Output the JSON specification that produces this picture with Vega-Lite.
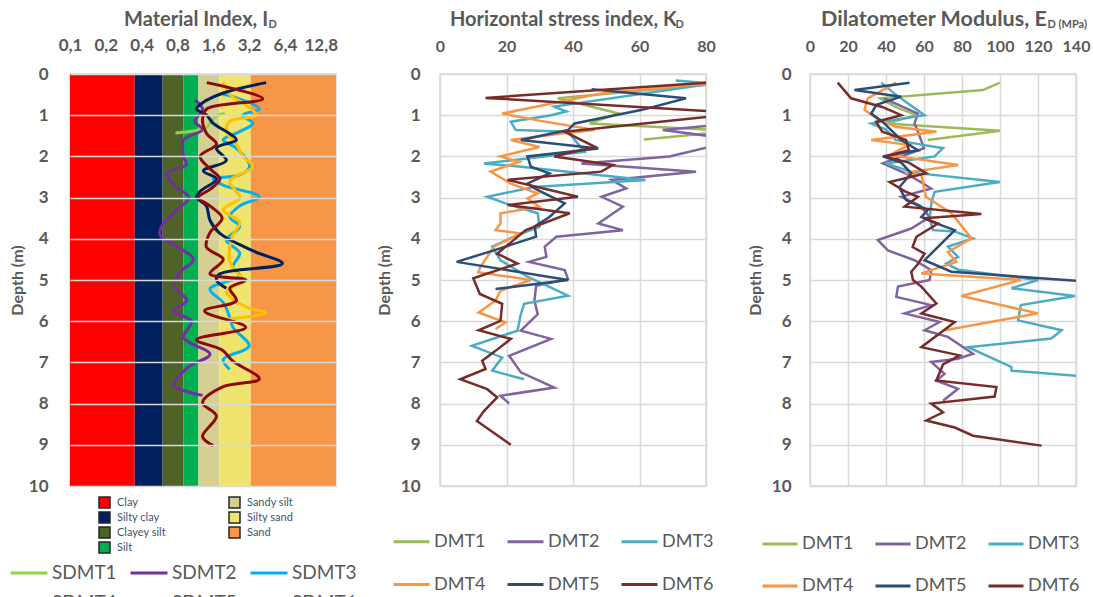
{
  "$schema": "https://vega.github.io/schema/vega-lite/v6.json",
  "background": "white",
  "padding": {"left": 8, "top": 7, "right": 0, "bottom": 0},
  "config": {
    "font": "Lato",
    "view": {"stroke": "#D9D9D9", "strokeWidth": 1.5},
    "axis": {"labelFont": "Lato", "labelFontWeight": "bold", "labelColor": "#595959", "labelFontSize": 16, "titleFont": "Lato", "titleFontWeight": "bold", "titleColor": "#595959", "domain": false, "ticks": false, "tickSize": 0, "gridColor": "#D9D9D9", "gridWidth": 1.5, "labelOverlap": false, "labelFlush": false},
    "title": {"font": "Lato", "fontSize": 20, "fontWeight": "bold", "color": "#595959", "anchor": "start", "frame": "group"},
    "legend": {"labelFont": "Lato", "labelColor": "#595959", "padding": 0, "labelLimit": 0}
  },
  "datasets": {
    "soil": [
      {"soil": "Clay", "lo": 0.1, "hi": 0.35},
      {"soil": "Silty clay", "lo": 0.35, "hi": 0.6},
      {"soil": "Clayey silt", "lo": 0.6, "hi": 0.9},
      {"soil": "Silt", "lo": 0.9, "hi": 1.2},
      {"soil": "Sandy silt", "lo": 1.2, "hi": 1.8},
      {"soil": "Silty sand", "lo": 1.8, "hi": 3.3},
      {"soil": "Sand", "lo": 3.3, "hi": 17.2}
    ],
    "id": [
      {"s":"SDMT1","d":0.95,"v":2.0},{"s":"SDMT1","d":1.05,"v":1.65},{"s":"SDMT1","d":1.3,"v":1.4},{"s":"SDMT1","d":1.37,"v":1.15},{"s":"SDMT1","d":1.43,"v":0.77},
      {"s":"SDMT2","d":0.63,"v":1.12},{"s":"SDMT2","d":0.85,"v":1.3},{"s":"SDMT2","d":1.15,"v":1.12},{"s":"SDMT2","d":1.35,"v":1.3},{"s":"SDMT2","d":1.6,"v":0.9},{"s":"SDMT2","d":2.0,"v":0.9},{"s":"SDMT2","d":2.2,"v":0.95},{"s":"SDMT2","d":2.42,"v":0.65},{"s":"SDMT2","d":2.75,"v":0.79},{"s":"SDMT2","d":3.0,"v":1.0},{"s":"SDMT2","d":3.3,"v":0.79},{"s":"SDMT2","d":3.65,"v":0.6},{"s":"SDMT2","d":3.9,"v":0.57},{"s":"SDMT2","d":4.15,"v":0.75},{"s":"SDMT2","d":4.5,"v":1.09},{"s":"SDMT2","d":4.8,"v":0.85},{"s":"SDMT2","d":5.14,"v":0.75},{"s":"SDMT2","d":5.5,"v":0.96},{"s":"SDMT2","d":5.75,"v":0.74},{"s":"SDMT2","d":6.0,"v":1.05},{"s":"SDMT2","d":6.4,"v":0.9},{"s":"SDMT2","d":6.8,"v":1.5},{"s":"SDMT2","d":7.1,"v":1.0},{"s":"SDMT2","d":7.55,"v":0.75},{"s":"SDMT2","d":7.8,"v":1.3},
      {"s":"SDMT3","d":0.5,"v":1.94},{"s":"SDMT3","d":0.55,"v":2.34},{"s":"SDMT3","d":0.85,"v":3.9},{"s":"SDMT3","d":1.0,"v":2.84},{"s":"SDMT3","d":1.2,"v":3.44},{"s":"SDMT3","d":1.4,"v":2.67},{"s":"SDMT3","d":1.6,"v":1.94},{"s":"SDMT3","d":1.8,"v":2.5},{"s":"SDMT3","d":2.25,"v":3.23},{"s":"SDMT3","d":2.45,"v":2.67},{"s":"SDMT3","d":2.55,"v":1.6},{"s":"SDMT3","d":2.7,"v":1.94},{"s":"SDMT3","d":2.98,"v":3.9},{"s":"SDMT3","d":3.2,"v":2.67},{"s":"SDMT3","d":3.47,"v":2.2},{"s":"SDMT3","d":3.7,"v":2.67},{"s":"SDMT3","d":4.03,"v":2.06},{"s":"SDMT3","d":4.35,"v":2.67},{"s":"SDMT3","d":4.68,"v":2.34},{"s":"SDMT3","d":4.9,"v":2.67},{"s":"SDMT3","d":5.22,"v":1.5},{"s":"SDMT3","d":5.55,"v":1.94},{"s":"SDMT3","d":5.9,"v":2.2},{"s":"SDMT3","d":6.15,"v":2.34},{"s":"SDMT3","d":6.6,"v":3.2},{"s":"SDMT3","d":6.93,"v":1.94},{"s":"SDMT3","d":7.17,"v":2.2},
      {"s":"SDMT4","d":0.2,"v":1.94},{"s":"SDMT4","d":0.5,"v":2.2},{"s":"SDMT4","d":0.75,"v":3.0},{"s":"SDMT4","d":1.0,"v":3.67},{"s":"SDMT4","d":1.15,"v":2.2},{"s":"SDMT4","d":1.4,"v":2.06},{"s":"SDMT4","d":1.7,"v":2.5},{"s":"SDMT4","d":2.0,"v":2.84},{"s":"SDMT4","d":2.25,"v":3.44},{"s":"SDMT4","d":2.6,"v":2.2},{"s":"SDMT4","d":3.0,"v":2.67},{"s":"SDMT4","d":3.3,"v":1.94},{"s":"SDMT4","d":3.6,"v":2.67},{"s":"SDMT4","d":3.9,"v":2.34},{"s":"SDMT4","d":4.2,"v":2.2},{"s":"SDMT4","d":4.55,"v":2.2},{"s":"SDMT4","d":4.8,"v":2.5},{"s":"SDMT4","d":5.0,"v":2.84},{"s":"SDMT4","d":5.3,"v":2.06},{"s":"SDMT4","d":5.65,"v":3.0},{"s":"SDMT4","d":5.8,"v":4.45},{"s":"SDMT4","d":5.95,"v":2.06},
      {"s":"SDMT5","d":0.21,"v":4.45},{"s":"SDMT5","d":0.45,"v":2.0},{"s":"SDMT5","d":0.7,"v":1.3},{"s":"SDMT5","d":0.85,"v":1.16},{"s":"SDMT5","d":1.0,"v":1.41},{"s":"SDMT5","d":1.2,"v":1.6},{"s":"SDMT5","d":1.45,"v":2.2},{"s":"SDMT5","d":1.6,"v":2.5},{"s":"SDMT5","d":1.8,"v":1.7},{"s":"SDMT5","d":2.1,"v":2.06},{"s":"SDMT5","d":2.35,"v":1.32},{"s":"SDMT5","d":2.55,"v":1.7},{"s":"SDMT5","d":2.85,"v":1.24},{"s":"SDMT5","d":3.0,"v":1.16},{"s":"SDMT5","d":3.2,"v":1.4},{"s":"SDMT5","d":3.55,"v":1.5},{"s":"SDMT5","d":3.87,"v":1.82},{"s":"SDMT5","d":4.3,"v":3.5},{"s":"SDMT5","d":4.6,"v":6.1},{"s":"SDMT5","d":4.85,"v":1.82},{"s":"SDMT5","d":5.0,"v":1.7},{"s":"SDMT5","d":5.2,"v":2.06},
      {"s":"SDMT6","d":0.21,"v":1.41},{"s":"SDMT6","d":0.6,"v":4.17},{"s":"SDMT6","d":0.85,"v":1.41},{"s":"SDMT6","d":1.1,"v":1.3},{"s":"SDMT6","d":1.45,"v":1.41},{"s":"SDMT6","d":1.7,"v":1.7},{"s":"SDMT6","d":2.0,"v":1.24},{"s":"SDMT6","d":2.3,"v":1.5},{"s":"SDMT6","d":2.55,"v":1.82},{"s":"SDMT6","d":2.8,"v":1.5},{"s":"SDMT6","d":3.0,"v":1.2},{"s":"SDMT6","d":3.2,"v":1.5},{"s":"SDMT6","d":3.5,"v":1.9},{"s":"SDMT6","d":3.85,"v":1.5},{"s":"SDMT6","d":4.2,"v":1.4},{"s":"SDMT6","d":4.5,"v":1.94},{"s":"SDMT6","d":4.85,"v":1.5},{"s":"SDMT6","d":5.0,"v":3.0},{"s":"SDMT6","d":5.2,"v":2.2},{"s":"SDMT6","d":5.5,"v":2.5},{"s":"SDMT6","d":5.75,"v":1.35},{"s":"SDMT6","d":6.15,"v":3.0},{"s":"SDMT6","d":6.45,"v":1.16},{"s":"SDMT6","d":6.7,"v":1.9},{"s":"SDMT6","d":6.97,"v":2.34},{"s":"SDMT6","d":7.4,"v":3.9},{"s":"SDMT6","d":7.6,"v":1.9},{"s":"SDMT6","d":7.98,"v":1.3},{"s":"SDMT6","d":8.3,"v":1.7},{"s":"SDMT6","d":8.8,"v":1.3},{"s":"SDMT6","d":9.02,"v":1.6}
    ],
    "kd": [
      {"s":"DMT1","d":0.2,"v":88},{"s":"DMT1","d":0.59,"v":35.4},{"s":"DMT1","d":0.96,"v":53.7},{"s":"DMT1","d":1.2,"v":45},{"s":"DMT1","d":1.38,"v":88},{"s":"DMT1","d":1.59,"v":61.3},
      {"s":"DMT2","d":1.2,"v":88},{"s":"DMT2","d":1.36,"v":67},{"s":"DMT2","d":1.6,"v":90},{"s":"DMT2","d":1.77,"v":81},{"s":"DMT2","d":2.0,"v":69},{"s":"DMT2","d":2.17,"v":42.5},{"s":"DMT2","d":2.37,"v":77},{"s":"DMT2","d":2.57,"v":51.6},{"s":"DMT2","d":2.78,"v":56},{"s":"DMT2","d":2.98,"v":48.6},{"s":"DMT2","d":3.22,"v":55},{"s":"DMT2","d":3.63,"v":47.6},{"s":"DMT2","d":3.79,"v":55},{"s":"DMT2","d":3.95,"v":35},{"s":"DMT2","d":4.19,"v":31.5},{"s":"DMT2","d":4.44,"v":32},{"s":"DMT2","d":4.56,"v":26.8},{"s":"DMT2","d":4.76,"v":37.5},{"s":"DMT2","d":4.98,"v":38.5},{"s":"DMT2","d":5.14,"v":28.9},{"s":"DMT2","d":5.5,"v":28.4},{"s":"DMT2","d":5.83,"v":29.4},{"s":"DMT2","d":6.23,"v":24.3},{"s":"DMT2","d":6.43,"v":33.4},{"s":"DMT2","d":6.84,"v":20.8},{"s":"DMT2","d":7.24,"v":24.3},{"s":"DMT2","d":7.61,"v":34.4},{"s":"DMT2","d":7.81,"v":18.2},{"s":"DMT2","d":8.0,"v":20.8},
      {"s":"DMT3","d":0.16,"v":70.9},{"s":"DMT3","d":0.23,"v":82},{"s":"DMT3","d":0.79,"v":34.4},{"s":"DMT3","d":0.91,"v":38},{"s":"DMT3","d":1.0,"v":33.4},{"s":"DMT3","d":1.16,"v":21.3},{"s":"DMT3","d":1.36,"v":22.8},{"s":"DMT3","d":1.4,"v":38.5},{"s":"DMT3","d":1.89,"v":43.5},{"s":"DMT3","d":2.17,"v":13.2},{"s":"DMT3","d":2.25,"v":24.3},{"s":"DMT3","d":2.57,"v":61.8},{"s":"DMT3","d":2.74,"v":28.4},{"s":"DMT3","d":2.98,"v":14.2},{"s":"DMT3","d":3.14,"v":19.7},{"s":"DMT3","d":3.38,"v":29.4},{"s":"DMT3","d":3.71,"v":29.9},{"s":"DMT3","d":3.91,"v":23.3},{"s":"DMT3","d":4.19,"v":15.7},{"s":"DMT3","d":4.52,"v":18.2},{"s":"DMT3","d":4.92,"v":26.3},{"s":"DMT3","d":5.38,"v":38.5},{"s":"DMT3","d":5.58,"v":25.3},{"s":"DMT3","d":5.83,"v":24.3},{"s":"DMT3","d":6.23,"v":23.3},{"s":"DMT3","d":6.6,"v":9.6},{"s":"DMT3","d":6.88,"v":18.7},{"s":"DMT3","d":7.2,"v":15.7},{"s":"DMT3","d":7.41,"v":25.3},
      {"s":"DMT4","d":0.22,"v":82},{"s":"DMT4","d":0.47,"v":48.6},{"s":"DMT4","d":0.96,"v":18.7},{"s":"DMT4","d":1.12,"v":29},{"s":"DMT4","d":1.36,"v":46.6},{"s":"DMT4","d":1.45,"v":36},{"s":"DMT4","d":1.6,"v":21.3},{"s":"DMT4","d":1.77,"v":29.9},{"s":"DMT4","d":2.0,"v":18.2},{"s":"DMT4","d":2.13,"v":23.8},{"s":"DMT4","d":2.37,"v":15.2},{"s":"DMT4","d":2.66,"v":21.3},{"s":"DMT4","d":2.9,"v":29.4},{"s":"DMT4","d":3.02,"v":26.3},{"s":"DMT4","d":3.22,"v":29.9},{"s":"DMT4","d":3.38,"v":18.2},{"s":"DMT4","d":3.63,"v":18.2},{"s":"DMT4","d":3.79,"v":16.7},{"s":"DMT4","d":3.87,"v":24.3},{"s":"DMT4","d":4.19,"v":16.2},{"s":"DMT4","d":4.68,"v":12.2},{"s":"DMT4","d":4.81,"v":11.5},{"s":"DMT4","d":5.0,"v":27.3},{"s":"DMT4","d":5.26,"v":18.2},{"s":"DMT4","d":5.5,"v":16.7},{"s":"DMT4","d":5.79,"v":11.6},{"s":"DMT4","d":6.03,"v":19.7},{"s":"DMT4","d":6.19,"v":16.7},
      {"s":"DMT5","d":0.37,"v":45.6},{"s":"DMT5","d":0.59,"v":74},{"s":"DMT5","d":0.87,"v":60.8},{"s":"DMT5","d":1.2,"v":40.5},{"s":"DMT5","d":1.36,"v":38.5},{"s":"DMT5","d":1.6,"v":24.3},{"s":"DMT5","d":1.81,"v":47.6},{"s":"DMT5","d":2.0,"v":26.3},{"s":"DMT5","d":2.25,"v":27.3},{"s":"DMT5","d":2.41,"v":32.9},{"s":"DMT5","d":2.66,"v":26.3},{"s":"DMT5","d":2.8,"v":29},{"s":"DMT5","d":3.14,"v":37.5},{"s":"DMT5","d":3.47,"v":32.9},{"s":"DMT5","d":3.7,"v":28.5},{"s":"DMT5","d":3.95,"v":28.9},{"s":"DMT5","d":4.28,"v":16.2},{"s":"DMT5","d":4.56,"v":5},{"s":"DMT5","d":5.0,"v":38.5},{"s":"DMT5","d":5.22,"v":16.7},
      {"s":"DMT6","d":0.2,"v":82},{"s":"DMT6","d":0.58,"v":13.7},{"s":"DMT6","d":0.92,"v":85},{"s":"DMT6","d":1.0,"v":85},{"s":"DMT6","d":1.4,"v":37.5},{"s":"DMT6","d":1.77,"v":46.6},{"s":"DMT6","d":2.0,"v":34.4},{"s":"DMT6","d":2.21,"v":52},{"s":"DMT6","d":2.37,"v":48.5},{"s":"DMT6","d":2.57,"v":20.3},{"s":"DMT6","d":2.98,"v":41.5},{"s":"DMT6","d":3.18,"v":20.3},{"s":"DMT6","d":3.38,"v":39},{"s":"DMT6","d":3.79,"v":25.8},{"s":"DMT6","d":4.36,"v":17.2},{"s":"DMT6","d":4.6,"v":23.3},{"s":"DMT6","d":4.96,"v":10},{"s":"DMT6","d":5.34,"v":12},{"s":"DMT6","d":5.58,"v":18.7},{"s":"DMT6","d":5.99,"v":18.2},{"s":"DMT6","d":6.22,"v":11.6},{"s":"DMT6","d":6.43,"v":21.3},{"s":"DMT6","d":6.72,"v":16.7},{"s":"DMT6","d":6.96,"v":12.7},{"s":"DMT6","d":7.16,"v":13.7},{"s":"DMT6","d":7.41,"v":6.1},{"s":"DMT6","d":7.65,"v":14.2},{"s":"DMT6","d":7.85,"v":17.2},{"s":"DMT6","d":8.18,"v":13.2},{"s":"DMT6","d":8.42,"v":11.1},{"s":"DMT6","d":9.0,"v":21.3}
    ],
    "ed": [
      {"s":"DMT1","d":0.21,"v":100},{"s":"DMT1","d":0.39,"v":91},{"s":"DMT1","d":0.59,"v":37},{"s":"DMT1","d":0.8,"v":45},{"s":"DMT1","d":1.0,"v":56},{"s":"DMT1","d":1.2,"v":40},{"s":"DMT1","d":1.38,"v":100},{"s":"DMT1","d":1.6,"v":62},
      {"s":"DMT2","d":0.59,"v":39},{"s":"DMT2","d":0.96,"v":56.8},{"s":"DMT2","d":1.2,"v":55},{"s":"DMT2","d":1.4,"v":56.8},{"s":"DMT2","d":1.8,"v":60},{"s":"DMT2","d":2.17,"v":38.3},{"s":"DMT2","d":2.45,"v":52},{"s":"DMT2","d":2.78,"v":63.8},{"s":"DMT2","d":2.98,"v":48},{"s":"DMT2","d":3.2,"v":58},{"s":"DMT2","d":3.47,"v":63},{"s":"DMT2","d":3.75,"v":53.3},{"s":"DMT2","d":4.03,"v":35.7},{"s":"DMT2","d":4.28,"v":41},{"s":"DMT2","d":4.52,"v":55},{"s":"DMT2","d":4.76,"v":63.8},{"s":"DMT2","d":5.0,"v":63},{"s":"DMT2","d":5.16,"v":46.3},{"s":"DMT2","d":5.41,"v":45.4},{"s":"DMT2","d":5.61,"v":63.8},{"s":"DMT2","d":5.81,"v":49.8},{"s":"DMT2","d":6.02,"v":68.2},{"s":"DMT2","d":6.22,"v":60.3},{"s":"DMT2","d":6.38,"v":72.6},{"s":"DMT2","d":6.79,"v":85.8},{"s":"DMT2","d":6.91,"v":77.9},{"s":"DMT2","d":6.99,"v":63.8},{"s":"DMT2","d":7.28,"v":70.8},{"s":"DMT2","d":7.44,"v":66.4},{"s":"DMT2","d":7.64,"v":77.9},{"s":"DMT2","d":7.93,"v":70},
      {"s":"DMT3","d":0.21,"v":37.5},{"s":"DMT3","d":0.5,"v":45},{"s":"DMT3","d":1.0,"v":60.3},{"s":"DMT3","d":1.1,"v":46},{"s":"DMT3","d":1.2,"v":32.2},{"s":"DMT3","d":1.35,"v":40},{"s":"DMT3","d":1.6,"v":45},{"s":"DMT3","d":1.72,"v":59.4},{"s":"DMT3","d":1.8,"v":70},{"s":"DMT3","d":2.0,"v":65.6},{"s":"DMT3","d":2.17,"v":40},{"s":"DMT3","d":2.4,"v":55},{"s":"DMT3","d":2.62,"v":100},{"s":"DMT3","d":2.86,"v":65.6},{"s":"DMT3","d":3.1,"v":64},{"s":"DMT3","d":3.5,"v":63},{"s":"DMT3","d":3.79,"v":64.7},{"s":"DMT3","d":3.82,"v":76},{"s":"DMT3","d":3.99,"v":85.8},{"s":"DMT3","d":4.19,"v":72.6},{"s":"DMT3","d":4.44,"v":77.9},{"s":"DMT3","d":4.6,"v":71.8},{"s":"DMT3","d":4.75,"v":78},{"s":"DMT3","d":5.0,"v":120},{"s":"DMT3","d":5.2,"v":106},{"s":"DMT3","d":5.39,"v":139.5},{"s":"DMT3","d":5.61,"v":111},{"s":"DMT3","d":5.98,"v":109.5},{"s":"DMT3","d":6.22,"v":132.4},{"s":"DMT3","d":6.42,"v":127},{"s":"DMT3","d":6.63,"v":83.2},{"s":"DMT3","d":7.11,"v":106},{"s":"DMT3","d":7.2,"v":106},{"s":"DMT3","d":7.34,"v":145},
      {"s":"DMT4","d":0.21,"v":45.4},{"s":"DMT4","d":0.59,"v":30.4},{"s":"DMT4","d":0.87,"v":28.7},{"s":"DMT4","d":1.08,"v":35},{"s":"DMT4","d":1.28,"v":45},{"s":"DMT4","d":1.4,"v":66.5},{"s":"DMT4","d":1.6,"v":32.2},{"s":"DMT4","d":1.72,"v":52},{"s":"DMT4","d":1.97,"v":42},{"s":"DMT4","d":2.21,"v":78},{"s":"DMT4","d":2.4,"v":50},{"s":"DMT4","d":2.45,"v":58.6},{"s":"DMT4","d":2.98,"v":61},{"s":"DMT4","d":3.38,"v":74.4},{"s":"DMT4","d":3.99,"v":85},{"s":"DMT4","d":4.32,"v":72.6},{"s":"DMT4","d":4.56,"v":77},{"s":"DMT4","d":4.84,"v":58.6},{"s":"DMT4","d":5.0,"v":111},{"s":"DMT4","d":5.39,"v":79.7},{"s":"DMT4","d":5.81,"v":120},{"s":"DMT4","d":6.22,"v":70.9},
      {"s":"DMT5","d":0.21,"v":52.4},{"s":"DMT5","d":0.39,"v":23.4},{"s":"DMT5","d":0.55,"v":48},{"s":"DMT5","d":0.75,"v":35},{"s":"DMT5","d":0.96,"v":32.2},{"s":"DMT5","d":1.15,"v":38},{"s":"DMT5","d":1.6,"v":48},{"s":"DMT5","d":1.85,"v":56.8},{"s":"DMT5","d":2.0,"v":38.3},{"s":"DMT5","d":2.15,"v":48},{"s":"DMT5","d":2.41,"v":53.3},{"s":"DMT5","d":2.75,"v":47},{"s":"DMT5","d":3.06,"v":50.6},{"s":"DMT5","d":3.3,"v":62},{"s":"DMT5","d":3.47,"v":58.6},{"s":"DMT5","d":3.6,"v":65},{"s":"DMT5","d":3.79,"v":76.2},{"s":"DMT5","d":4.52,"v":60.3},{"s":"DMT5","d":4.8,"v":74.4},{"s":"DMT5","d":5.05,"v":150},
      {"s":"DMT6","d":0.21,"v":14.6},{"s":"DMT6","d":0.59,"v":21.6},{"s":"DMT6","d":0.8,"v":38},{"s":"DMT6","d":1.0,"v":48},{"s":"DMT6","d":1.16,"v":34.8},{"s":"DMT6","d":1.4,"v":38},{"s":"DMT6","d":1.6,"v":50.6},{"s":"DMT6","d":1.85,"v":52},{"s":"DMT6","d":2.0,"v":39.2},{"s":"DMT6","d":2.15,"v":52},{"s":"DMT6","d":2.41,"v":61.2},{"s":"DMT6","d":2.62,"v":41.9},{"s":"DMT6","d":2.85,"v":50},{"s":"DMT6","d":2.98,"v":56.8},{"s":"DMT6","d":3.22,"v":49.8},{"s":"DMT6","d":3.4,"v":90.2},{"s":"DMT6","d":3.5,"v":60},{"s":"DMT6","d":3.63,"v":67.4},{"s":"DMT6","d":3.95,"v":56},{"s":"DMT6","d":4.2,"v":54},{"s":"DMT6","d":4.36,"v":60.3},{"s":"DMT6","d":4.6,"v":57},{"s":"DMT6","d":4.8,"v":53.3},{"s":"DMT6","d":5.0,"v":54.2},{"s":"DMT6","d":5.16,"v":58.6},{"s":"DMT6","d":5.57,"v":66.5},{"s":"DMT6","d":5.81,"v":58.6},{"s":"DMT6","d":6.02,"v":76.2},{"s":"DMT6","d":6.63,"v":58.6},{"s":"DMT6","d":6.83,"v":78.8},{"s":"DMT6","d":7.05,"v":70},{"s":"DMT6","d":7.44,"v":66.5},{"s":"DMT6","d":7.6,"v":98.1},{"s":"DMT6","d":7.83,"v":97.2},{"s":"DMT6","d":8.0,"v":63.8},{"s":"DMT6","d":8.21,"v":70},{"s":"DMT6","d":8.41,"v":61.2},{"s":"DMT6","d":8.58,"v":76.2},{"s":"DMT6","d":8.78,"v":85.8},{"s":"DMT6","d":9.02,"v":121.9}
    ]
  },
  "spacing": 104,
  "bounds": "flush",
  "resolve": {"scale": {"x": "independent", "y": "independent", "stroke": "independent", "fill": "independent"}, "legend": {"stroke": "independent", "fill": "independent"}},
  "hconcat": [
    {
      "width": 266, "height": 412,
      "title": {"text": "Material Index, I", "dx": 54, "dy": 16},
      "layer": [
        {
          "data": {"name": "soil"},
          "mark": {"type": "rect"},
          "encoding": {
            "x": {"field": "lo", "type": "quantitative", "scale": {"type": "log", "base": 2, "domain": [0.1, 17.2], "nice": false, "zero": false},
                  "axis": {"orient": "top", "values": [0.1, 0.2, 0.4, 0.8, 1.6, 3.2, 6.4, 12.8], "labelExpr": "replace(format(datum.value, '.1f'), '.', ',')", "grid": false, "labelPadding": 20, "labelFontSize": 17, "title": "D", "titleX": 198, "titleY": -47, "titleAlign": "left", "titleBaseline": "alphabetic", "titleFontSize": 11, "titleAngle": 0}},
            "x2": {"field": "hi"},
            "y": {"datum": 0, "type": "quantitative", "scale": {"domain": [0, 10], "reverse": true, "nice": false, "zero": false},
                  "axis": {"values": [0,1,2,3,4,5,6,7,8,9,10], "grid": true, "zindex": 1, "title": "Depth (m)", "titleFontSize": 16, "titlePadding": 3, "labelPadding": 22, "labelFontSize": 17}},
            "y2": {"datum": 10},
            "fill": {"field": "soil", "type": "nominal",
                     "scale": {"domain": ["Clay", "Silty clay", "Clayey silt", "Silt", "Sandy silt", "Silty sand", "Sand"], "range": ["#FF0000", "#002060", "#4F6228", "#00B050", "#D5CF92", "#EEE46E", "#F79646"]},
                     "legend": {"orient": "none", "legendX": 28, "legendY": 422, "columns": 2, "direction": "vertical", "title": null, "symbolType": "square", "symbolSize": 121, "symbolStrokeColor": "#262626", "symbolStrokeWidth": 1.5, "labelFontSize": 11, "labelColor": "#44546A", "labelOffset": 6, "columnPadding": 60, "rowPadding": -6}}
          }
        },
        {
          "data": {"name": "id"},
          "mark": {"type": "line", "interpolate": "catmull-rom", "strokeWidth": 3, "clip": true},
          "encoding": {
            "x": {"field": "v", "type": "quantitative"},
            "y": {"field": "d", "type": "quantitative"},
            "order": {"field": "d"},
            "stroke": {"field": "s", "type": "nominal",
                       "scale": {"domain": ["SDMT1", "SDMT2", "SDMT3", "SDMT4", "SDMT5", "SDMT6"], "range": ["#92D050", "#7030A0", "#00B0F0", "#FFC000", "#002060", "#8B0A0A"]},
                       "legend": {"orient": "none", "legendX": -61, "legendY": 479, "columns": 3, "direction": "horizontal", "title": null, "symbolType": "stroke", "symbolSize": 1369, "symbolStrokeWidth": 3, "labelFontSize": 19, "labelOffset": 3, "columnPadding": 7, "rowPadding": -3}}
          }
        }
      ]
    },
    {
      "width": 266, "height": 412,
      "title": {"text": "Horizontal stress index, K", "dx": 10, "dy": 16},
      "data": {"name": "kd"},
      "mark": {"type": "line", "strokeWidth": 2.5, "clip": true},
      "encoding": {
        "x": {"field": "v", "type": "quantitative", "scale": {"domain": [0, 80], "nice": false},
              "axis": {"orient": "top", "values": [0, 20, 40, 60, 80], "grid": true, "labelPadding": 20, "title": "D", "titleX": 235, "titleY": -47, "titleAlign": "left", "titleBaseline": "alphabetic", "titleFontSize": 11, "titleAngle": 0}},
        "y": {"field": "d", "type": "quantitative", "scale": {"domain": [0, 10], "reverse": true, "nice": false, "zero": false},
              "axis": {"values": [0,1,2,3,4,5,6,7,8,9,10], "grid": true, "title": "Depth (m)", "titleFontSize": 16, "titlePadding": 8, "labelPadding": 20, "labelFontSize": 17}},
        "order": {"field": "d"},
        "stroke": {"field": "s", "type": "nominal",
                   "scale": {"domain": ["DMT1", "DMT2", "DMT3", "DMT4", "DMT5", "DMT6"], "range": ["#9BBB59", "#8064A2", "#4BACC6", "#F79646", "#2C4D75", "#772C2A"]},
                   "legend": {"orient": "none", "legendX": -48, "legendY": 448, "columns": 3, "direction": "horizontal", "title": null, "symbolType": "stroke", "symbolSize": 1296, "symbolStrokeWidth": 3, "labelFontSize": 18, "labelOffset": 3, "columnPadding": 15, "rowPadding": 14}}
      }
    },
    {
      "width": 266, "height": 412,
      "title": {"text": "Dilatometer Modulus, E", "dx": 11, "dy": 16, "fontSize": 21.5},
      "data": {"name": "ed"},
      "mark": {"type": "line", "strokeWidth": 2.5, "clip": true},
      "encoding": {
        "x": {"field": "v", "type": "quantitative", "scale": {"domain": [0, 140], "nice": false},
              "axis": {"orient": "top", "values": [0, 20, 40, 60, 80, 100, 120, 140], "grid": true, "labelPadding": 20, "title": "D (MPa)", "titleX": 237, "titleY": -47, "titleAlign": "left", "titleBaseline": "alphabetic", "titleFontSize": 11, "titleAngle": 0}},
        "y": {"field": "d", "type": "quantitative", "scale": {"domain": [0, 10], "reverse": true, "nice": false, "zero": false},
              "axis": {"values": [0,1,2,3,4,5,6,7,8,9,10], "grid": true, "title": "Depth (m)", "titleFontSize": 16, "titlePadding": 8, "labelPadding": 19, "labelFontSize": 17}},
        "order": {"field": "d"},
        "stroke": {"field": "s", "type": "nominal",
                   "scale": {"domain": ["DMT1", "DMT2", "DMT3", "DMT4", "DMT5", "DMT6"], "range": ["#9BBB59", "#8064A2", "#4BACC6", "#F79646", "#2C4D75", "#772C2A"]},
                   "legend": {"orient": "none", "legendX": -49, "legendY": 451, "columns": 3, "direction": "horizontal", "title": null, "symbolType": "stroke", "symbolSize": 1225, "symbolStrokeWidth": 3, "labelFontSize": 18, "labelOffset": 3, "columnPadding": 15, "rowPadding": 14}}
      }
    }
  ]
}
